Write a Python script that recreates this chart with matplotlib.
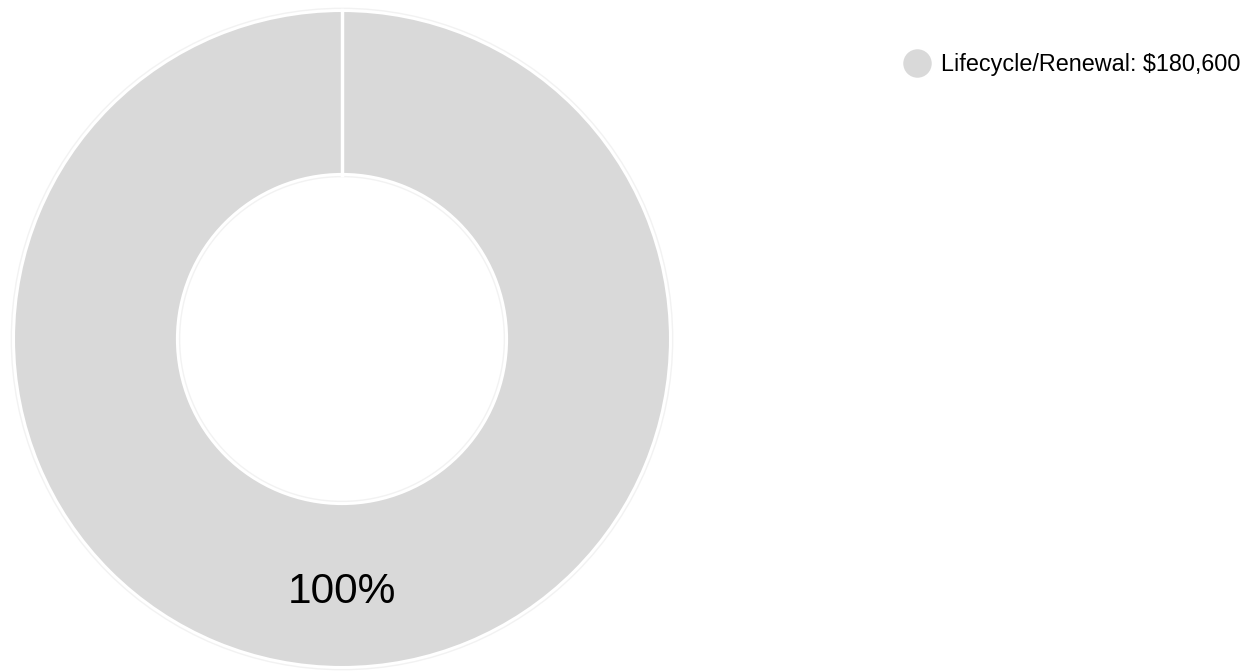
import matplotlib.pyplot as plt
from matplotlib.lines import Line2D

plt.rcParams["font.family"] = ["Liberation Sans", "DejaVu Sans"]

# 数据
categories = ["Lifecycle/Renewal"]
values = [180600]
colors = ["#d9d9d9"]

fig = plt.figure(figsize=(12.58, 6.71), dpi=100)
W, H = 1258, 671
# 饼图区域：圆心约 (342, 339)，半径约 332 px
cx, cy, r = 342, 339, 332
ax = fig.add_axes([(cx - r) / W, (H - cy - r) / H, 2 * r / W, 2 * r / H])

wedges, texts, autotexts = ax.pie(
    values, colors=colors, startangle=90, counterclock=False,
    radius=1.0, autopct="%1.0f%%", pctdistance=0.77,
    wedgeprops=dict(width=0.5, edgecolor="white", linewidth=2.5),
    textprops=dict(fontsize=30.5, color="black"))

# 淡灰外轮廓
outer = plt.Circle((0, 0), 1.006, fill=False, edgecolor="#f2f2f2", linewidth=1)
ax.add_patch(outer)
inner = plt.Circle((0, 0), 0.494, fill=False, edgecolor="#f2f2f2", linewidth=1)
ax.add_patch(inner)
# 起始处白色分隔线
ax.plot([0, 0], [0.5, 1.0], color="white", linewidth=2.5)

ax.set_xlim(-1.01, 1.01)
ax.set_ylim(-1.01, 1.01)
ax.set_aspect("equal")
ax.axis("off")

handles = [Line2D([0], [0], marker="o", linestyle="", markersize=22,
                  markerfacecolor=c, markeredgecolor="white", markeredgewidth=1.5)
           for c in colors]
labels = [f"{c}: ${v:,}" for c, v in zip(categories, values)]
fig.legend(handles, labels, loc="center left", bbox_to_anchor=(884 / W, 1 - 65 / H),
           frameon=False, fontsize=16.8, handletextpad=0.05, borderaxespad=0)

plt.savefig("out.png", dpi=100)
